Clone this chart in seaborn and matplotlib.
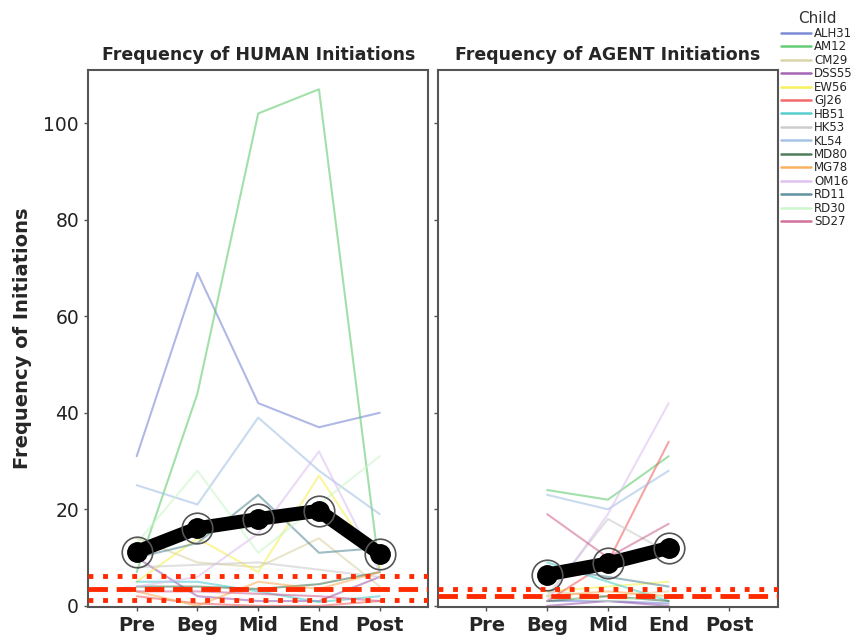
import numpy as np
import pandas as pd
import matplotlib
matplotlib.use("Agg")
import matplotlib.pyplot as plt
import seaborn as sns

phases = ['Pre', 'Beg', 'Mid', 'End', 'Post']
agent_phases = ['Beg', 'Mid', 'End']
children = ['ALH31', 'AM12', 'CM29', 'DSS55', 'EW56', 'GJ26', 'HB51', 'HK53',
            'KL54', 'MD80', 'MG78', 'OM16', 'RD11', 'RD30', 'SD27']
colors = ['#6f7fd0', '#55c865', '#d8d0a0', '#9a55aa', '#f5f04a', '#f05a5a',
          '#45c8c8', '#c8c8c8', '#9dbde0', '#3d6e4a', '#f8a850', '#dcbcee',
          '#4f8595', '#c8f5c8', '#cc6090']

# human initiations, Pre..Post
human_ALH31 = [31, 69, 42, 37, 40]
human_AM12 = [7, 44, 102, 107, 7]
human_CM29 = [14, 9, 8, 14, 4]
human_DSS55 = [10, 2, 1, 1, 6]
human_EW56 = [5, 14, 7, 27, 8]
human_GJ26 = [2, 0.5, 0, 0, 1]
human_HB51 = [5, 5, 3, 0.8, 2]
human_HK53 = [8, 8.5, 9, 7.5, 6]
human_KL54 = [25, 21, 39, 28, 19]
human_MD80 = [4, 4, 3.5, 4.5, 7]
human_MG78 = [3, 0, 5, 3.5, 7]
human_OM16 = [4, 6, 15, 32, 7]
human_RD11 = [10, 13, 23, 11, 12]
human_RD30 = [13, 28, 11, 21, 31]
human_SD27 = [3, 3, 2.5, 2, 1]

# agent initiations, Beg..End
agent_ALH31 = [1, 1, 0.5]
agent_AM12 = [24, 22, 31]
agent_CM29 = [3, 2, 3]
agent_DSS55 = [0, 1, 0]
agent_EW56 = [3, 4, 5]
agent_GJ26 = [1, 9, 34]
agent_HB51 = [9, 5, 1]
agent_HK53 = [2, 18, 11]
agent_KL54 = [23, 20, 28]
agent_MD80 = [1, 2, 1]
agent_MG78 = [2, 3, 2]
agent_OM16 = [1, 19, 42]
agent_RD11 = [8, 6, 4]
agent_RD30 = [2, 1, 2]
agent_SD27 = [19, 10, 17]

human_mean = [11.2, 16.1, 18.0, 19.7, 10.8]
agent_mean = [6.5, 8.8, 12.0]
human_dashed = [3.5]
human_dotted = [6.2, 1.2]
agent_dashed = [2.1]
agent_dotted = [3.5]

human_rows = [human_ALH31, human_AM12, human_CM29, human_DSS55, human_EW56,
              human_GJ26, human_HB51, human_HK53, human_KL54, human_MD80,
              human_MG78, human_OM16, human_RD11, human_RD30, human_SD27]
agent_rows = [agent_ALH31, agent_AM12, agent_CM29, agent_DSS55, agent_EW56,
              agent_GJ26, agent_HB51, agent_HK53, agent_KL54, agent_MD80,
              agent_MG78, agent_OM16, agent_RD11, agent_RD30, agent_SD27]

pos = {p: i for i, p in enumerate(phases)}
df_h = pd.DataFrame([(c, pos[p], v) for c, vals in zip(children, human_rows)
                     for p, v in zip(phases, vals)], columns=['Child', 'x', 'freq'])
df_a = pd.DataFrame([(c, pos[p], v) for c, vals in zip(children, agent_rows)
                     for p, v in zip(agent_phases, vals)], columns=['Child', 'x', 'freq'])
pal = dict(zip(children, colors))

sns.set_style("white")
plt.rcParams['font.family'] = ['DejaVu Sans']

fig = plt.figure(figsize=(8.55, 6.42), dpi=100)
ax1 = fig.add_axes([0.103, 0.054, 0.398, 0.837])
ax2 = fig.add_axes([0.512, 0.054, 0.398, 0.837], sharey=ax1)

panels = [(ax1, df_h, human_mean, phases, human_dashed, human_dotted,
           'Frequency of HUMAN Initiations'),
          (ax2, df_a, agent_mean, agent_phases, agent_dashed, agent_dotted,
           'Frequency of AGENT Initiations')]
for ax, df, mean, ph, dashed, dotted, title in panels:
    sns.lineplot(data=df, x='x', y='freq', hue='Child', hue_order=children,
                 palette=pal, estimator=None, lw=1.5, alpha=0.55, ax=ax,
                 legend=(ax is ax2))
    mx = [pos[p] for p in ph]
    ax.plot(mx, mean, color='black', lw=10, solid_capstyle='round', zorder=5)
    ax.plot(mx, mean, 'o', ms=14, color='black', zorder=6)
    ax.plot(mx, mean, 'o', ms=22, mfc='none', mec='#555555', mew=1.2, zorder=6)
    for v in dashed:
        ax.axhline(v, color='#ff2a00', lw=3.5, ls=(0, (4, 1.8)), zorder=7)
    for v in dotted:
        ax.axhline(v, color='#ff2a00', lw=3.5, ls=(0, (1, 2)), zorder=7)
    ax.set_xlim(-0.8, 4.8)
    ax.set_xticks(range(len(phases)))
    ax.set_xticklabels(phases, fontsize=14, fontweight='bold')
    ax.set_xlabel('')
    ax.set_title(title, fontsize=12.5, fontweight='bold', pad=7)
    for s in ax.spines.values():
        s.set_color('#555555')
        s.set_linewidth(1.5)
    ax.tick_params(axis='both', direction='out', length=3, width=1,
                   color='#555555', bottom=True, left=True)

ax1.set_ylim(-0.3, 111)
ax1.set_yticks([0, 20, 40, 60, 80, 100])
ax1.tick_params(axis='y', labelsize=13.5, labelcolor='#222222')
ax1.set_ylabel('Frequency of Initiations', fontsize=14, fontweight='bold', labelpad=8)
ax2.set_ylabel('')
plt.setp(ax2.get_yticklabels(), visible=False)

leg = ax2.legend(title='Child', loc='upper left', bbox_to_anchor=(0.995, 1.118),
                 frameon=False, fontsize=8.5, title_fontsize=11, labelspacing=0.04,
                 handlelength=2.5, handletextpad=0.3, borderaxespad=0)
leg.get_title().set_color('#333333')
for ln in leg.get_lines():
    ln.set_alpha(0.9)
    ln.set_linewidth(1.8)

fig.savefig('out.png', dpi=100)
